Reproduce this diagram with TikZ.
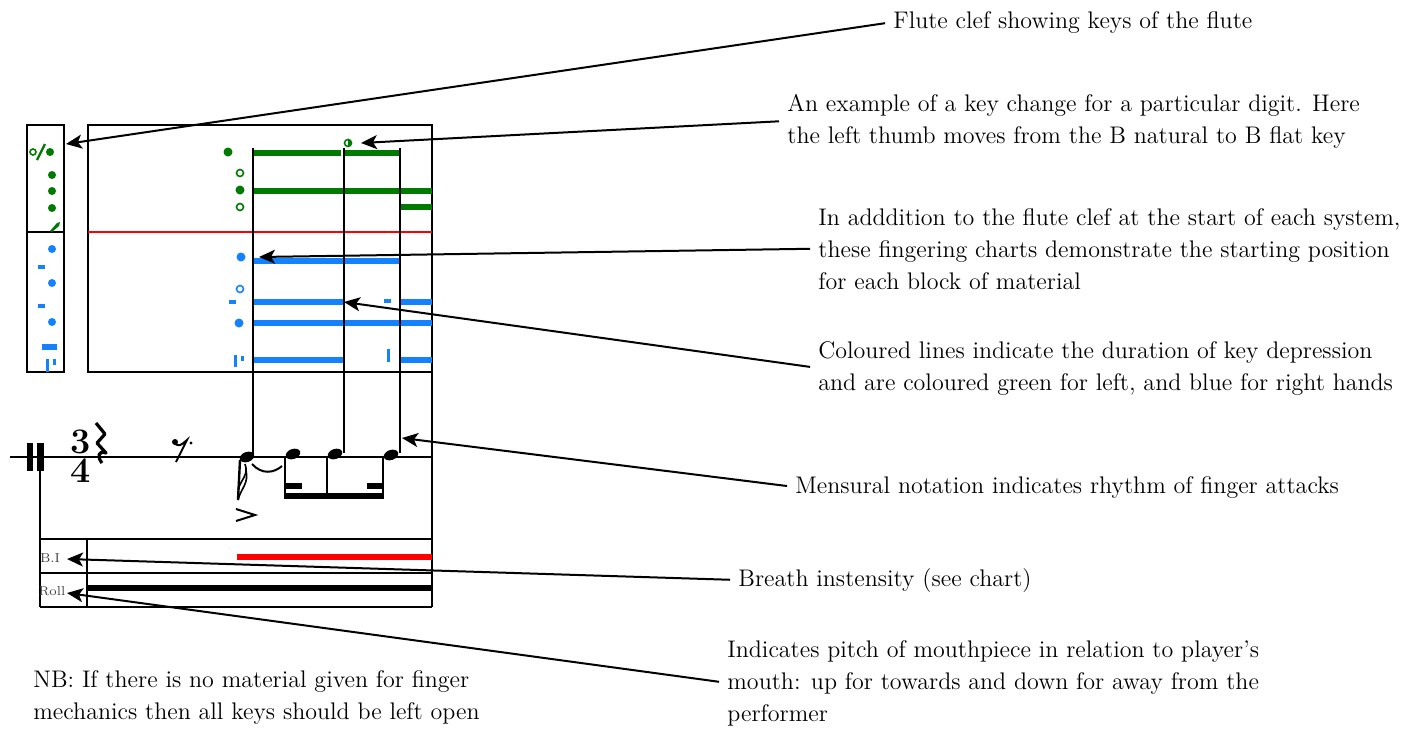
\documentclass[tikz,border=0pt]{standalone}
\usetikzlibrary{arrows.meta}

\definecolor{lefthand}{RGB}{0,122,0}
\definecolor{righthand}{RGB}{20,130,255}

\tikzset{
  note/.style={anchor=base west, inner sep=0pt, align=left,
    font=\fontsize{12}{16}\selectfont},
  callout/.style={line width=1pt, -{Stealth[length=8pt,width=7pt,inset=2pt]},
    shorten <=4pt},
  frame/.style={line width=1.2pt},
  keyline/.style={line width=3.4pt},
  stem/.style={line width=1.2pt},
  metre/.style={inner sep=0pt, align=center, font=\fontsize{18}{14.5}\selectfont\bfseries},
  tag/.style={inner sep=0pt, text=black!75, font=\fontsize{6.5}{7}\selectfont},
}

\begin{document}
\begin{tikzpicture}[x=0.5pt,y=-0.5pt]
    \useasboundingbox (0,0) rectangle (1407,728);

    % flute clef
    \draw [frame] (27,125) rectangle (64,372);
    \draw [frame] (27,232) -- (64,232);
    \draw [lefthand, line width=0.8pt] (33,152) circle (3);
    \draw [lefthand, line width=1.2pt] (37,160) -- (45,144);
    \fill [lefthand] (50,152) circle (4);
    \foreach \y in {175,191,208}
        \fill [lefthand] (52,\y) circle (4);
    \fill [lefthand] (50,231) -- (57,223) -- (60,222) -- (59,226) -- (52,232) -- cycle;
    \foreach \y in {249,283,322}
        \fill [righthand] (52,\y) circle (4);
    \fill [righthand] (38,265) rectangle (45,269);
    \fill [righthand] (38,304) rectangle (45,308);
    \fill [righthand] (42,344) rectangle (57,350);
    \fill [righthand] (46,359) rectangle (49,372);
    \fill [righthand] (53,359) rectangle (56,365);

    % fingering chart
    \draw [frame] (88,125) rectangle (432,372);
    \draw [red, line width=1pt] (88,232) -- (432,232);
    \fill [lefthand] (228,152) circle (4.5);
    \draw [lefthand, line width=0.8pt] (240,173) circle (3.5);
    \fill [lefthand] (240,190) circle (4.5);
    \draw [lefthand, line width=0.8pt] (240,207) circle (3.5);
    \draw [lefthand, line width=0.8pt] (348,143) circle (3.5);
    \fill [lefthand] (348,143) -- ++(0,-3.5) arc [start angle=-90, end angle=90, radius=3.5] -- cycle;
    \draw [keyline, lefthand] (253,153) -- (341,153);
    \draw [keyline, lefthand] (344,153) -- (399,153);
    \draw [keyline, lefthand] (253,191) -- (432,191);
    \draw [keyline, lefthand] (400,207) -- (432,207);
    \fill [righthand] (241,257) circle (4.5);
    \draw [righthand, line width=0.8pt] (240,289) circle (3.5);
    \fill [righthand] (239,323) circle (4.5);
    \fill [righthand] (229,300) rectangle (236,304);
    \fill [righthand] (384,299) rectangle (391,303);
    \fill [righthand] (234,355) rectangle (237,367);
    \fill [righthand] (241,356) rectangle (244,361);
    \fill [righthand] (387,349) rectangle (390,362);
    \draw [keyline, righthand] (253,261) -- (399,261);
    \draw [keyline, righthand] (253,302) -- (343,302);
    \draw [keyline, righthand] (400,302) -- (432,302);
    \draw [keyline, righthand] (253,323) -- (432,323);
    \draw [keyline, righthand] (253,360) -- (343,360);
    \draw [keyline, righthand] (400,360) -- (432,360);

    % staff and notes
    \draw [line width=0.6pt] (10,457) -- (432,457);
    \fill (27,443) rectangle (33,471);
    \fill (37,443) rectangle (44,471);
    \draw [frame] (40,457) -- (40,607);
    \draw [frame] (432,372) -- (432,607);
    \node [metre] (time) at (81,456) {3\\4};
    \draw [line width=1.6pt, line join=round] (96,423) -- (105,434) -- (97,443) -- (106,453)
        .. controls (98,450) and (97,457) .. (102,463);
    \fill (175,442) circle (3);
    \fill (191,443) circle (1.6);
    \draw [line width=1pt] (175,444) .. controls (180,446) .. (187,440) -- (176,462);
    \foreach \x/\y in {247/457,293/454,335/454,391/455}
        \fill [rotate around={20:(\x,\y)}] (\x,\y) ellipse (7.5 and 5);
    \draw [stem] (253,148) -- (253,455);
    \draw [stem] (344,148) -- (344,453);
    \draw [stem] (400,148) -- (400,453);
    \draw [stem] (285,456) -- (285,498);
    \draw [stem] (327,456) -- (327,498);
    \draw [stem] (383,457) -- (383,498);
    \draw [stem] (240,460) -- (238,500);
    \draw [line width=0.8pt] (238,500) .. controls (241,488) and (249,484) .. (246,470);
    \draw [line width=0.8pt] (238,490) .. controls (241,479) and (249,475) .. (245,464);
    \draw [line width=1pt] (282,466) .. controls (274,473) and (262,475) .. (252,464);
    \draw [line width=1pt] (236,509) -- (255,515) -- (236,521);
    \fill (284,493) rectangle (384,499);
    \fill (284,483) rectangle (302,489);
    \fill (367,483) rectangle (384,489);

    % breath and roll staves
    \draw [frame] (40,539) -- (432,539);
    \draw [frame] (40,573) -- (432,573);
    \draw [frame] (40,607) -- (432,607);
    \draw [frame] (87,539) -- (87,607);
    \draw [red, line width=3pt] (237,557) -- (432,557);
    \draw [line width=3pt] (87,588) -- (432,588);
    \node [tag] (bi) at (50,558) {B.I};
    \node [tag] (roll) at (52,591) {Roll};

    % targets
    \coordinate (clefarr) at (66,144);
    \coordinate (thumbarr) at (361,143);
    \coordinate (startarr) at (259,257);
    \coordinate (linearr) at (344,302);
    \coordinate (notearr) at (402,438);
    \coordinate (biarr) at (67,559);
    \coordinate (rollarr) at (67,593);

    % explanations (base = last line)
    \node [note] (flute) at (893,28) {Flute clef showing keys of the flute};
    \node [note] (thumb) at (787,143) {An example of a key change for a particular digit. Here\\
        the left thumb moves from the B natural to B flat key};
    \node [note] (start) at (818,289) {In adddition to the flute clef at the start of each system,\\
        these fingering charts demonstrate the starting position\\
        for each block of material};
    \node [note] (lines) at (818,390) {Coloured lines indicate the duration of key depression\\
        and are coloured green for left, and blue for right hands};
    \node [note] (mensural) at (795,493) {Mensural notation indicates rhythm of finger attacks};
    \node [note] (breath) at (738,586) {Breath instensity (see chart)};
    \node [note] (pitch) at (727,721) {Indicates pitch of mouthpiece in relation to player's\\
        mouth: up for towards and down for away from the\\
        performer};
    \node [note] (nb) at (33,719) {NB: If there is no material given for finger\\
        mechanics then all keys should be left open};

    \path [callout] (flute.west) edge (clefarr);
    \path [callout] (thumb.west) edge (thumbarr);
    \path [callout] (start.west) edge (startarr);
    \path [callout] (lines.west) edge (linearr);
    \path [callout] (mensural.west) edge (notearr);
    \path [callout] (breath.west) edge (biarr);
    \path [callout] (pitch.west) edge (rollarr);
\end{tikzpicture}
\end{document}
